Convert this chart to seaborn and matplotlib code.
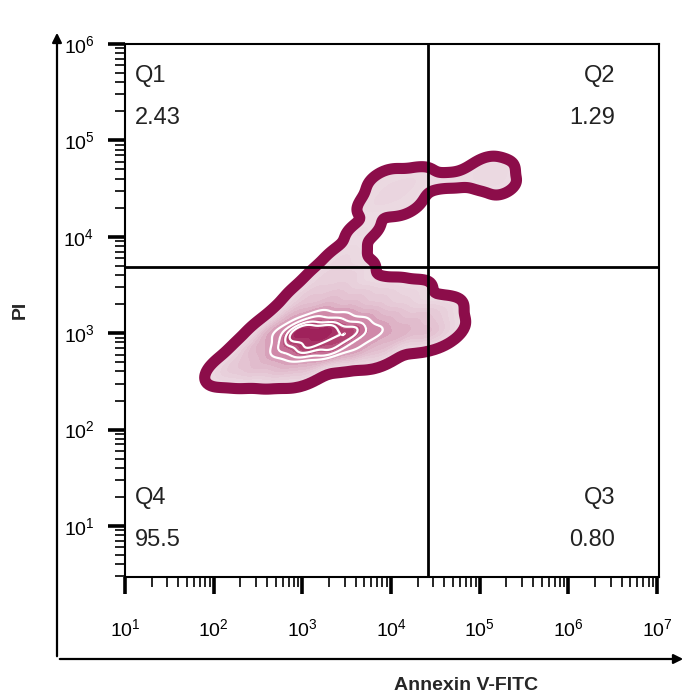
import numpy as np
import pandas as pd
import matplotlib
matplotlib.use("Agg")
import matplotlib.pyplot as plt
import seaborn as sns
from matplotlib.colors import LinearSegmentedColormap
from matplotlib.ticker import LogLocator, NullFormatter

# ---- event clusters (log10 units) ----
annexin_log = [2.21, 2.47, 2.76, 3.03,
               2.47, 2.76, 3.03, 3.31, 3.59, 3.88,
               2.69, 2.97, 3.25, 3.54, 3.82, 4.10, 4.38, 4.55,
               2.92, 3.20, 3.48, 3.76, 4.04, 4.33, 4.53,
               3.09, 3.37, 3.65, 3.93, 4.21,
               3.29, 3.54,
               3.48,
               3.68,
               3.85, 4.05, 4.24, 3.93, 4.16,
               4.55, 4.80,
               5.15, 5.05, 5.27]
pi_log = [2.64, 2.64, 2.64, 2.64,
          2.83, 2.83, 2.83, 2.83, 2.83, 2.83,
          3.01, 3.01, 3.01, 3.01, 3.01, 3.01, 3.01, 3.01,
          3.19, 3.19, 3.19, 3.19, 3.19, 3.19, 3.19,
          3.39, 3.39, 3.39, 3.39, 3.39,
          3.59, 3.59,
          3.79,
          4.06,
          4.36, 4.47, 4.58, 4.58, 4.34,
          4.58, 4.59,
          4.64, 4.74, 4.52]
event_weight = [0.9, 1.3, 1.5, 1.2,
                1.5, 3.5, 5.5, 5.0, 2.5, 1.2,
                2.5, 8.0, 8.0, 6.0, 3.0, 2.0, 1.3, 0.6,
                1.8, 3.0, 2.5, 1.8, 1.3, 1.0, 0.6,
                1.0, 1.2, 1.0, 0.7, 0.4,
                0.6, 0.6,
                0.35,
                0.2,
                0.3, 0.35, 0.28, 0.2, 0.2,
                0.1, 0.1,
                0.32, 0.12, 0.12]

gate_annexin = 2.6e4
gate_pi = 4.9e3
quadrant_names = ["Q1", "Q2", "Q3", "Q4"]
quadrant_values = ["2.43", "1.29", "0.80", "95.5"]
x_label = "Annexin V-FITC"
y_label = "PI"

df = pd.DataFrame({
    "annexin": 10 ** np.array(annexin_log),
    "pi": 10 ** np.array(pi_log),
    "w": event_weight,
})

sns.set_style("white")
plt.rcParams["font.family"] = ["Liberation Sans", "DejaVu Sans"]
plt.rcParams["mathtext.default"] = "regular"

W, H = 687, 699
fig = plt.figure(figsize=(W / 100, H / 100), dpi=100)
ax = fig.add_axes([125 / W, 1 - 577 / H, (659 - 125) / W, (577 - 44) / H])

maroon = "#8C0D4A"
cmap = LinearSegmentedColormap.from_list(
    "flow", ["#ECDCE4", "#DDB0C4", "#C97399", "#B0406F", "#9A1A56"])

bw = 0.27
low = 0.008
fill_levels = [low, 0.025, 0.05, 0.08, 0.12, 0.17, 0.23, 0.30, 0.38, 0.47, 0.57, 0.67, 0.77, 0.86, 0.93, 1.0]
common = dict(data=df, x="annexin", y="pi", weights="w", log_scale=True,
              bw_method=bw, gridsize=300, cut=6, ax=ax)

sns.kdeplot(fill=True, levels=fill_levels, cmap=cmap, **common)
sns.kdeplot(levels=[low], color=maroon, linewidths=8, **common)
sns.kdeplot(levels=[0.45, 0.58, 0.71, 0.84], color="white", linewidths=1.6, **common)

ax.axvline(gate_annexin, color="black", lw=2, zorder=5)
ax.axhline(gate_pi, color="black", lw=2, zorder=5)

ax.set_xscale("log")
ax.set_yscale("log")
ax.set_xlim(10, 1.05e7)
ax.set_ylim(2.95, 1e6)

for a in (ax.xaxis, ax.yaxis):
    a.set_major_locator(LogLocator(base=10, numticks=20))
    a.set_minor_locator(LogLocator(base=10, subs=np.arange(2, 10), numticks=20))
    a.set_minor_formatter(NullFormatter())
ax.set_xticks([10 ** k for k in range(1, 8)])
ax.set_yticks([10 ** k for k in range(1, 7)])

ax.tick_params(which="major", direction="out", length=12, width=2.6, labelsize=14,
               colors="black")
ax.tick_params(which="minor", direction="out", length=7, width=1.2, colors="black")
ax.tick_params(axis="x", which="major", pad=18)
ax.tick_params(axis="y", which="major", pad=10)
ax.tick_params(axis="x", which="both", bottom=True, top=False)
ax.tick_params(axis="y", which="both", left=True, right=False)
for s in ax.spines.values():
    s.set_visible(True)
    s.set_color("black")
    s.set_linewidth(1.5)
ax.set_xlabel("")
ax.set_ylabel("")

tfs = 17
tc = "#222222"
ax.text(0.019, 0.94, quadrant_names[0], transform=ax.transAxes, fontsize=tfs, va="center", ha="left", color=tc)
ax.text(0.019, 0.861, quadrant_values[0], transform=ax.transAxes, fontsize=tfs, va="center", ha="left", color=tc)
ax.text(0.918, 0.94, quadrant_names[1], transform=ax.transAxes, fontsize=tfs, va="center", ha="right", color=tc)
ax.text(0.918, 0.861, quadrant_values[1], transform=ax.transAxes, fontsize=tfs, va="center", ha="right", color=tc)
ax.text(0.918, 0.148, quadrant_names[2], transform=ax.transAxes, fontsize=tfs, va="center", ha="right", color=tc)
ax.text(0.918, 0.07, quadrant_values[2], transform=ax.transAxes, fontsize=tfs, va="center", ha="right", color=tc)
ax.text(0.019, 0.148, quadrant_names[3], transform=ax.transAxes, fontsize=tfs, va="center", ha="left", color=tc)
ax.text(0.019, 0.07, quadrant_values[3], transform=ax.transAxes, fontsize=tfs, va="center", ha="left", color=tc)

# outer arrow axes
fig.add_artist(matplotlib.patches.FancyArrowPatch(
    (57, H - 659), (57, H - 30), transform=None, arrowstyle="-|>", mutation_scale=14,
    lw=1.6, color="black"))
fig.add_artist(matplotlib.patches.FancyArrowPatch(
    (57, H - 659), (686, H - 659), transform=None, arrowstyle="-|>", mutation_scale=14,
    lw=1.6, color="black"))

fig.text(466 / W, 1 - 686 / H, x_label, fontsize=14, fontweight="bold", ha="center", va="center")
fig.text(20 / W, 1 - 310 / H, y_label, fontsize=14, fontweight="bold", ha="center", va="center", rotation=90)

fig.savefig("out.png", dpi=100, facecolor="white")
